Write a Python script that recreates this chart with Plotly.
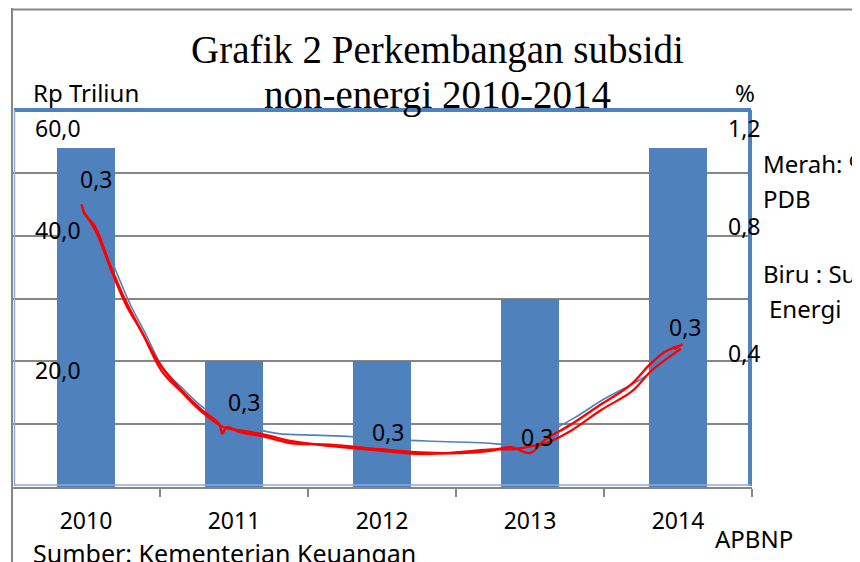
import plotly.graph_objects as go

# ---------------- data ----------------
years = ["2010", "2011", "2012", "2013", "2014"]
subsidi_rp = [54.0, 20.0, 20.0, 30.0, 54.0]          # Rp Triliun (bars)

# hand-drawn red line (% PDB), x in category units
red_x = [-0.03, -0.01, 0.06, 0.16, 0.26, 0.37, 0.50, 0.64, 0.77, 0.90, 0.92, 0.95,
         1.04, 1.21, 1.38, 1.65, 1.99, 2.26, 2.53, 2.73, 2.87, 3.00, 3.10, 3.27,
         3.47, 3.68, 3.81, 3.91, 4.01, 3.98, 4.03]
red_y = [0.90, 0.87, 0.83, 0.71, 0.60, 0.50, 0.39, 0.31, 0.25, 0.20, 0.17, 0.19,
         0.175, 0.16, 0.14, 0.135, 0.12, 0.11, 0.108, 0.115, 0.127, 0.108, 0.15, 0.197,
         0.26, 0.325, 0.39, 0.43, 0.45, 0.44, 0.455]
red_x2 = [-0.02, 0.07, 0.17, 0.27, 0.38, 0.51, 0.65, 0.78, 0.93, 1.05, 1.22, 1.40,
          1.66, 2.00, 2.27, 2.54, 2.74, 2.88, 3.01, 3.11, 3.28, 3.48, 3.69, 3.82, 3.93, 4.02]
red_y2 = [0.88, 0.81, 0.69, 0.58, 0.49, 0.37, 0.30, 0.24, 0.19, 0.18, 0.165, 0.145,
          0.13, 0.115, 0.105, 0.112, 0.12, 0.12, 0.13, 0.14, 0.18, 0.245, 0.305, 0.37, 0.41, 0.44]

# thin blue line
blue_x = [0.02, 0.10, 0.20, 0.30, 0.40, 0.52, 0.66, 0.80, 0.95, 1.10, 1.30, 1.55,
          1.80, 2.10, 2.40, 2.70, 2.85, 2.95, 3.10, 3.30, 3.50, 3.70, 3.80, 3.85]
blue_y = [0.88, 0.80, 0.69, 0.58, 0.49, 0.38, 0.31, 0.25, 0.21, 0.19, 0.17, 0.165,
          0.16, 0.15, 0.145, 0.14, 0.135, 0.14, 0.17, 0.22, 0.28, 0.33, 0.36, 0.41]

pct_label_x = [0.07, 1.07, 2.04, 3.05, 4.05]
pct_label_y = [0.98, 0.27, 0.175, 0.16, 0.51]
pct_label_text = ["0,3", "0,3", "0,3", "0,3", "0,3"]

left_tick_text = ["60,0", "40,0", "20,0"]
left_tick_pos = [57.1, 40.9, 18.6]      # where the labels sit
right_tick_text = ["1,2", "0,8", "0,4"]
right_tick_pos = [1.143, 0.83, 0.425]

BLUE = "#4F81BD"
GRAY = "#868686"
SANS = "Noto Sans"
SERIF = "Liberation Serif"
FS = 23

fig = go.Figure()
fig.add_trace(go.Bar(x=list(range(5)), y=subsidi_rp, marker_color=BLUE,
                     marker_line_width=0, width=0.39, yaxis="y"))
fig.add_trace(go.Scatter(x=blue_x, y=blue_y, mode="lines", yaxis="y2",
                         line=dict(color=BLUE, width=1.6, shape="spline")))
fig.add_trace(go.Scatter(x=red_x, y=red_y, mode="lines", yaxis="y2",
                         line=dict(color="#FF0000", width=2.4, shape="spline")))
fig.add_trace(go.Scatter(x=red_x2, y=red_y2, mode="lines", yaxis="y2",
                         line=dict(color="#FF0000", width=2.2, shape="spline")))

ann = []
for t, yv in zip(left_tick_text, left_tick_pos):
    ann.append(dict(x=0.062, y=yv, xref="paper", yref="y", text=t, showarrow=False,
                    xanchor="center", yanchor="middle", font=dict(family=SANS, size=FS, color="black")))
for t, yv in zip(right_tick_text, right_tick_pos):
    ann.append(dict(x=0.989, y=yv, xref="paper", yref="y2", text=t, showarrow=False,
                    xanchor="center", yanchor="middle", font=dict(family=SANS, size=FS, color="black")))
for xv, yv, t in zip(pct_label_x, pct_label_y, pct_label_text):
    ann.append(dict(x=xv, y=yv, xref="x", yref="y2", text=t, showarrow=False,
                    xanchor="center", yanchor="middle", font=dict(family=SANS, size=FS, color="black")))

def txt(x, y, t, size=FS, family=SANS, anchor="left"):
    ann.append(dict(x=x, y=y, xref="paper", yref="paper", text=t, showarrow=False,
                    xanchor=anchor, yanchor="middle", font=dict(family=family, size=size, color="black")))

H = 377.0
W = 740.0
def px(xp):
    return (xp - 12) / W
def py(yp):
    return (487 - yp) / H

txt(px(437), py(50), "Grafik 2 Perkembangan subsidi", 39, SERIF, "center")
txt(px(437), py(95), "non-energi 2010-2014", 39, SERIF, "center")
txt(px(31), py(93), "Rp Triliun", 24)
txt(px(745), py(92), "%", 24, SANS, "center")
txt(px(761), py(163), "Merah: %", 24)
txt(px(761), py(198), "PDB", 24)
txt(px(761), py(273), "Biru : Subsidi", 24)
txt(px(767), py(308), "Energi", 24)
txt(px(713), py(538), "APBNP", 24)
txt(px(31), py(553), "Sumber: Kementerian Keuangan", 25)

shapes = [
    # outer gray frame
    dict(type="line", xref="paper", yref="paper", x0=0, x1=1.2, y0=py(9.5), y1=py(9.5),
         line=dict(color=GRAY, width=2)),
    dict(type="line", xref="paper", yref="paper", x0=0, x1=0, y0=py(8), y1=py(570),
         line=dict(color=GRAY, width=2)),
    # blue plot border
    dict(type="line", xref="paper", yref="paper", x0=px(14), x1=px(751), y0=1, y1=1,
         line=dict(color=BLUE, width=4)),
    dict(type="line", xref="paper", yref="paper", x0=px(750), x1=px(750), y0=py(110), y1=py(486),
         line=dict(color=BLUE, width=4)),
    dict(type="line", xref="paper", yref="paper", x0=px(14.5), x1=px(14.5), y0=py(110), y1=py(486),
         line=dict(color="#8FAADC", width=1.5)),
    dict(type="line", xref="paper", yref="paper", x0=px(14), x1=px(751), y0=py(485), y1=py(485),
         line=dict(color="#8FAADC", width=1.5)),
]

# the page body adds an 8 px offset, so the figure is 852x554 with margins shifted
fig.update_layout(
    width=852, height=554,
    margin=dict(l=4, r=108, t=102, b=75),
    paper_bgcolor="white", plot_bgcolor="white",
    showlegend=False, bargap=0,
    annotations=ann, shapes=shapes,
    xaxis=dict(range=[-0.5, 4.5], tickvals=list(range(5)), ticktext=years,
               ticks="", showgrid=False, zeroline=False,
               showline=True, linecolor=GRAY, linewidth=2,
               ticklabelstandoff=12,
               tickfont=dict(family=SANS, size=FS, color="black"),
               minor=dict(tickvals=[0.5, 1.5, 2.5, 3.5, 4.5], ticks="outside",
                          ticklen=8, tickwidth=2, tickcolor=GRAY)),
    yaxis=dict(range=[0, 60], dtick=10, showticklabels=False, showgrid=True,
               gridcolor=GRAY, gridwidth=2, zeroline=False, showline=False),
    yaxis2=dict(range=[0, 1.2], overlaying="y", side="right", showticklabels=False,
                showgrid=False, zeroline=False, showline=False),
)

fig.write_html("out.html")
